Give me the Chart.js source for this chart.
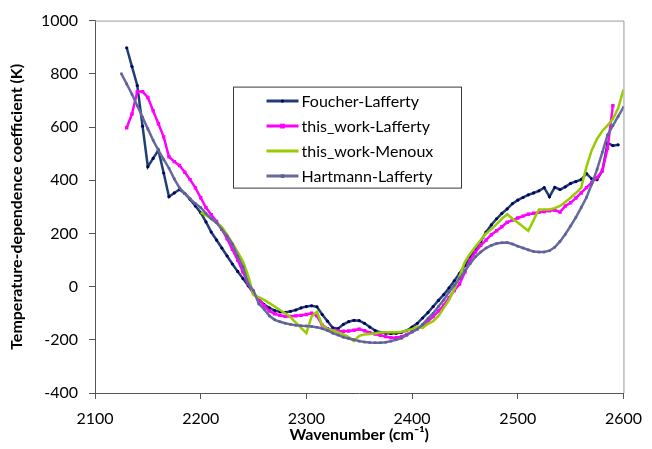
<!DOCTYPE html>
<html>
<head>
<meta charset="utf-8">
<script src="https://cdn.jsdelivr.net/npm/chart.js@4.4.1/dist/chart.umd.min.js"></script>
<style>
  html, body { margin: 0; padding: 0; background: #fff; }
  #wrap { width: 652px; height: 449px; position: relative; }
</style>
</head>
<body>
<div id="wrap"><canvas id="c" width="652" height="449"></canvas></div>
<script>
// ---- Data ----
const seriesNames = ["Foucher-Lafferty", "this_work-Lafferty", "this_work-Menoux", "Hartmann-Lafferty"];

const xFoucher = [2130,2135,2140,2145,2150,2155,2160,2165,2170,2175,2180,2185,2190,2195,2200,2205,2210,2215,2220,2225,2230,2235,2240,2245,2250,2255,2260,2265,2270,2275,2280,2285,2290,2295,2300,2305,2310,2315,2320,2325,2330,2335,2340,2345,2350,2355,2360,2365,2370,2375,2380,2385,2390,2395,2400,2405,2410,2415,2420,2425,2430,2435,2440,2445,2450,2455,2460,2465,2470,2475,2480,2485,2490,2495,2500,2505,2510,2515,2520,2525,2530,2535,2540,2545,2550,2555,2560,2565,2570,2575,2580,2585,2590,2595];
const yFoucher = [898,827,756,603,451,482,513,427,338,352,365,350,328,303,278,243,205,175,145,115,85,57,30,3,-25,-48,-68,-80,-90,-95,-97,-93,-88,-80,-75,-72,-76,-105,-130,-155,-158,-142,-132,-127,-128,-138,-152,-165,-172,-175,-176,-175,-172,-165,-152,-138,-118,-98,-75,-52,-30,-5,22,50,80,110,142,170,205,232,255,275,292,312,325,335,345,352,360,372,338,373,365,375,388,395,402,425,405,402,435,540,530,533];

const xLaffThis = [2130,2135,2140,2145,2150,2155,2160,2165,2170,2175,2180,2185,2190,2195,2200,2205,2210,2215,2220,2225,2230,2235,2240,2245,2250,2255,2260,2265,2270,2275,2280,2285,2290,2295,2300,2305,2310,2315,2320,2325,2330,2335,2340,2345,2350,2355,2360,2365,2370,2375,2380,2385,2390,2395,2400,2405,2410,2415,2420,2425,2430,2435,2440,2445,2450,2455,2460,2465,2470,2475,2480,2485,2490,2495,2500,2505,2510,2515,2520,2525,2530,2535,2540,2545,2550,2555,2560,2565,2570,2575,2580,2585,2590];
const yLaffThis = [597,649,733,733,711,661,612,563,488,470,455,430,402,371,334,297,270,245,215,180,140,100,55,10,-25,-50,-72,-92,-102,-108,-112,-112,-110,-108,-105,-100,-110,-145,-158,-165,-167,-168,-167,-164,-160,-166,-173,-178,-183,-188,-192,-192,-188,-180,-170,-158,-146,-130,-113,-92,-70,-42,-15,10,55,100,130,155,175,195,210,225,242,250,258,265,272,276,279,282,285,288,280,303,315,333,352,372,392,410,435,520,680];

const xMenoux = [2200,2205,2210,2215,2220,2225,2230,2235,2240,2245,2250,2255,2260,2265,2270,2275,2280,2285,2290,2295,2300,2305,2310,2315,2320,2325,2330,2335,2340,2345,2350,2355,2360,2365,2370,2375,2380,2385,2390,2395,2400,2405,2410,2415,2420,2425,2430,2435,2440,2445,2450,2455,2460,2465,2470,2475,2480,2485,2490,2495,2500,2505,2510,2515,2520,2525,2530,2535,2540,2545,2550,2555,2560,2565,2570,2575,2580,2585,2590,2595,2600];
const yMenoux = [280,268,255,240,225,195,163,130,95,40,-32,-40,-50,-62,-75,-88,-100,-115,-135,-155,-175,-112,-95,-145,-160,-165,-172,-180,-190,-205,-185,-180,-178,-176,-173,-172,-172,-172,-170,-165,-160,-150,-155,-140,-130,-110,-80,-50,-10,40,93,125,150,175,200,215,235,255,272,255,241,225,210,250,290,290,290,295,303,318,334,352,371,450,513,555,585,606,630,670,741];

const xHartmann = [2125,2130,2135,2140,2145,2150,2155,2160,2165,2170,2175,2180,2185,2190,2195,2200,2205,2210,2215,2220,2225,2230,2235,2240,2245,2250,2255,2260,2265,2270,2275,2280,2285,2290,2295,2300,2305,2310,2315,2320,2325,2330,2335,2340,2345,2350,2355,2360,2365,2370,2375,2380,2385,2390,2395,2400,2405,2410,2415,2420,2425,2430,2435,2440,2445,2450,2455,2460,2465,2470,2475,2480,2485,2490,2495,2500,2505,2510,2515,2520,2525,2530,2535,2540,2545,2550,2555,2560,2565,2570,2575,2580,2585,2590,2595,2600];
const yHartmann = [800,762,723,680,637,593,550,512,478,445,405,371,350,330,312,297,275,255,240,215,190,160,115,75,10,-15,-65,-85,-110,-125,-132,-138,-142,-145,-147,-148,-150,-153,-158,-165,-175,-182,-190,-195,-200,-205,-208,-210,-211,-211,-209,-205,-200,-194,-183,-170,-160,-142,-120,-100,-75,-50,-20,5,30,60,87,112,130,145,155,162,165,166,160,152,145,138,132,130,130,135,148,170,197,228,260,297,335,385,440,505,570,605,640,674];

const xTicks = [2100, 2200, 2300, 2400, 2500, 2600];
const yTicks = [-400, -200, 0, 200, 400, 600, 800, 1000];

function pts(xs, ys) { return xs.map((x, i) => ({ x: x, y: ys[i] })); }

const FONT = "Lato, 'Open Sans', 'Liberation Sans', sans-serif";

// Plot area border (top/right in light gray)
const borderPlugin = {
  id: 'plotBorder',
  beforeDatasetsDraw(chart) {
    const a = chart.chartArea, ctx = chart.ctx;
    ctx.save();
    ctx.strokeStyle = '#9a9a9a';
    ctx.lineWidth = 1;
    ctx.beginPath();
    ctx.moveTo(a.left, a.top + 0.5);
    ctx.lineTo(a.right + 0.5, a.top + 0.5);
    ctx.lineTo(a.right + 0.5, a.bottom);
    ctx.stroke();
    ctx.restore();
  }
};

// Legend box drawn inside the plot area
const legendPlugin = {
  id: 'insideLegend',
  afterDraw(chart) {
    const a = chart.chartArea, ctx = chart.ctx;
    const bx = a.left + 138.5, by = a.top + 66.5, bw = 228, bh = 101;
    ctx.save();
    ctx.fillStyle = '#ffffff';
    ctx.fillRect(bx, by, bw, bh);
    ctx.strokeStyle = '#3a3a3a';
    ctx.lineWidth = 1;
    ctx.strokeRect(bx, by, bw, bh);
    ctx.font = "16px " + FONT;
    ctx.textBaseline = 'middle';
    ctx.textAlign = 'left';
    chart.data.datasets.forEach((ds, i) => {
      const y = by + 14 + i * 25;
      const x0 = bx + 33, x1 = bx + 65;
      ctx.strokeStyle = ds.borderColor;
      ctx.lineWidth = 3;
      ctx.beginPath(); ctx.moveTo(x0, y); ctx.lineTo(x1, y); ctx.stroke();
      if (ds.pointRadius > 0) {
        ctx.fillStyle = ds.pointBackgroundColor;
        const r = ds.pointRadius;
        const mx = (x0 + x1) / 2;
        if (ds.pointStyle === 'rect') ctx.fillRect(mx - r, y - r, 2 * r, 2 * r);
        else { ctx.beginPath(); ctx.arc(mx, y, r, 0, Math.PI * 2); ctx.fill(); }
      }
      ctx.fillStyle = '#000';
      ctx.fillText(ds.label, x1 + 3, y + 1);
    });
    ctx.restore();
  }
};

const ctx = document.getElementById('c').getContext('2d');
new Chart(ctx, {
  type: 'line',
  data: {
    datasets: [
      { label: seriesNames[0], data: pts(xFoucher, yFoucher), borderColor: '#1f3f72', borderWidth: 2.5,
        pointRadius: 1.6, pointStyle: 'circle', pointBackgroundColor: '#000066', pointBorderWidth: 0, order: 4 },
      { label: seriesNames[1], data: pts(xLaffThis, yLaffThis), borderColor: '#ff00ff', borderWidth: 2.5,
        pointRadius: 2.4, pointStyle: 'rect', pointBackgroundColor: '#ff00ff', pointBorderWidth: 0, order: 3 },
      { label: seriesNames[2], data: pts(xMenoux, yMenoux), borderColor: '#99cc00', borderWidth: 2.5,
        pointRadius: 0, pointBackgroundColor: '#99cc00', order: 2 },
      { label: seriesNames[3], data: pts(xHartmann, yHartmann), borderColor: '#676a9e', borderWidth: 2.5,
        pointRadius: 1.8, pointStyle: 'rect', pointBackgroundColor: '#5c5f96', pointBorderWidth: 0, order: 1 }
    ]
  },
  options: {
    responsive: false,
    animation: false,
    devicePixelRatio: 1,
    layout: { padding: { left: 0, right: 22, top: 15, bottom: 0 } },
    plugins: { legend: { display: false }, tooltip: { enabled: false } },
    elements: { line: { tension: 0 } },
    scales: {
      x: {
        type: 'linear', min: 2100, max: 2600,
        afterBuildTicks: (s) => { s.ticks = xTicks.map(v => ({ value: v })); },
        afterFit: (s) => { s.height = 56; },
        grid: { drawOnChartArea: false, drawTicks: true, tickLength: 6, color: '#555555' },
        border: { display: true, color: '#555555', width: 1 },
        ticks: { color: '#000', font: { family: FONT, size: 16 }, padding: 10, maxRotation: 0,
                 callback: (v) => String(v) },
        title: { display: true, text: 'Wavenumber (cm⁻¹)', color: '#000',
                 font: { family: FONT, size: 16, weight: 'bold' }, padding: { top: 0, bottom: 5 } }
      },
      y: {
        type: 'linear', min: -400, max: 1000,
        afterBuildTicks: (s) => { s.ticks = yTicks.map(v => ({ value: v })); },
        afterFit: (s) => { s.width = 95; },
        grid: { drawOnChartArea: false, drawTicks: true, tickLength: 6, color: '#555555' },
        border: { display: true, color: '#555555', width: 1 },
        ticks: { color: '#000', font: { family: FONT, size: 16 }, padding: 11,
                 callback: (v) => String(v) },
        title: { display: true, text: 'Temperature-dependence coefficient (K)', color: '#000',
                 font: { family: FONT, size: 16, weight: 'bold' }, padding: { top: 7, bottom: 0 } }
      }
    }
  },
  plugins: [borderPlugin, legendPlugin]
});
</script>
</body>
</html>
